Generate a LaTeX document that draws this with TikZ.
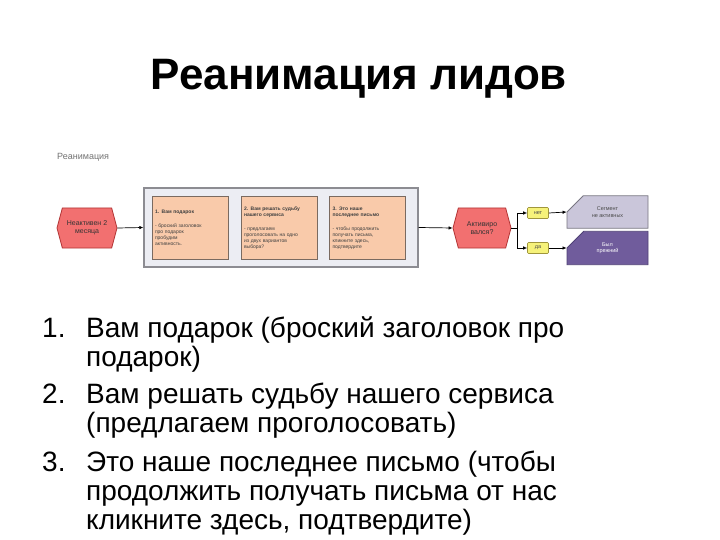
\documentclass[tikz,border=0pt]{standalone}
\usepackage{fontspec}
\setmainfont{Liberation Sans}
\usetikzlibrary{shapes.symbols,shapes.misc,arrows.meta}
\definecolor{HexFill}{RGB}{242,112,112}
\definecolor{HexLine}{RGB}{178,52,52}
\definecolor{FrameFill}{RGB}{236,237,243}
\definecolor{FrameLine}{RGB}{140,140,146}
\definecolor{StepFill}{RGB}{249,202,170}
\definecolor{StepLine}{RGB}{122,106,96}
\definecolor{AnsFill}{RGB}{246,242,122}
\definecolor{AnsLine}{RGB}{160,150,60}
\definecolor{SegFill}{RGB}{202,198,218}
\definecolor{SegLine}{RGB}{120,118,130}
\definecolor{OldFill}{RGB}{112,92,156}
\definecolor{OldLine}{RGB}{80,66,118}

\begin{document}
\begin{tikzpicture}[x=1pt,y=-1pt,
  hexnode/.style={shape=signal,signal to=east and west,signal pointer angle=150,draw=HexLine,fill=HexFill,line width=0.8pt,minimum width=#1,minimum height=40pt,inner sep=1pt,align=center,font=\fontsize{7}{8.5}\selectfont,text=black!80},
  stepbox/.style={draw=StepLine,fill=StepFill,line width=1pt,minimum width=76pt,minimum height=62pt,text width=70pt,align=left,inner sep=2.5pt,font=\fontsize{5}{6}\selectfont,text=black!75},
  ansbox/.style={draw=AnsLine,fill=AnsFill,line width=0.6pt,minimum width=21pt,minimum height=11pt,inner sep=0pt,rounded corners=1pt,font=\fontsize{5.5}{6}\selectfont,text=black!70},
  segcard/.style n args={3}{shape=chamfered rectangle,chamfered rectangle corners=north west,chamfered rectangle xsep=12pt,chamfered rectangle ysep=10pt,draw=#2,fill=#1,text=#3,line width=0.8pt,minimum width=81pt,minimum height=25pt,inner sep=1pt,align=center,font=\fontsize{5.5}{6.5}\selectfont},
  arr/.style={-{Latex[length=4pt,width=3.5pt]},line width=0.7pt},
  listnum/.style={anchor=base west,inner sep=0pt,font=\fontsize{28}{30}\selectfont},
  listtxt/.style={anchor=base west,inner sep=0pt,font=\fontsize{28}{30}\selectfont}]
\useasboundingbox[fill=white] (0,0) rectangle (720,540);

% title
\node[anchor=base,inner sep=0pt,font=\fontsize{44}{50}\selectfont\bfseries] (title) at (359,90) {Реанимация лидов};

% flow chart
\node[anchor=west,inner sep=0pt,text=black!55,font=\fontsize{9}{10}\selectfont] (lbl) at (57,157) {Реанимация};
\node[hexnode=60pt] (idle) at (87,228) {Неактивен 2\\месяца};
\node[draw=FrameLine,fill=FrameFill,line width=1.3pt,minimum width=274pt,minimum height=79pt] (frame) at (281,227.5) {};
\node[stepbox] (s1) at (190,228) {\textbf{1. Вам подарок}\\[8pt]- броский заголовок\\про подарок\\пробудим\\активность.};
\node[stepbox] (s2) at (279,228) {\textbf{2. Вам решать судьбу\\нашего сервиса}\\[8pt]- предлагаем\\проголосовать на одно\\из двух вариантов\\выбора?};
\node[stepbox] (s3) at (367.5,228) {\textbf{3. Это наше\\последнее письмо}\\[8pt]- чтобы продолжить\\получать письма,\\кликните здесь,\\подтвердите};
\node[hexnode=58pt] (act) at (482,228) {Активиро\\вался?};
\node[ansbox] (no) at (538,213) {нет};
\node[ansbox] (yes) at (538,248) {да};
\node[segcard={SegFill}{SegLine}{black!70}] (seg) at (607.5,212) {Сегмент\\не активных};
\node[segcard={OldFill}{OldLine}{white}] (old) at (607.5,248) {Был\\прежний};

\draw[arr] (idle.east) -- (frame.west);
\draw[arr] (frame.east) -- (act.west);
\draw[line width=0.7pt] (act.east) -- ++(6,0) coordinate (fork);
\draw[arr] (fork) |- (no.west);
\draw[arr] (fork) |- (yes.west);
\draw[arr] (no.east) -- (seg.west);
\draw[arr] (yes.east) -- (old.west);

% list
\foreach \i/\y in {1/337,2/403,3/471} {
  \node[listnum] (num\i) at (42,\y) {\i.};
}
\node[listtxt] (l1) at (86,337) {Вам подарок (броский заголовок про};
\node[listtxt] (l2) at (86,366) {подарок)};
\node[listtxt] (l3) at (86,403) {Вам решать судьбу нашего сервиса};
\node[listtxt] (l4) at (86,432) {(предлагаем проголосовать)};
\node[listtxt] (l5) at (86,471) {Это наше последнее письмо (чтобы};
\node[listtxt] (l6) at (86,500) {продолжить получать письма от нас};
\node[listtxt] (l7) at (86,529) {кликните здесь, подтвердите)};
\end{tikzpicture}
\end{document}
